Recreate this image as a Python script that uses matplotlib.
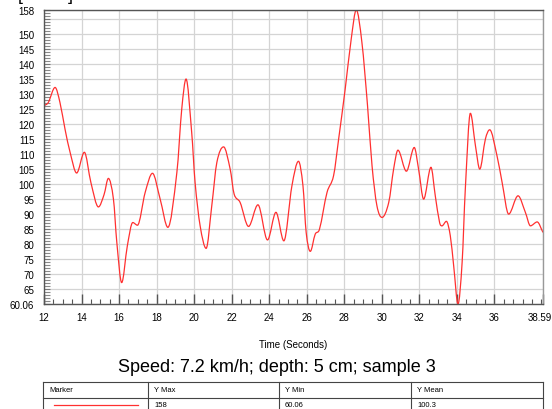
import matplotlib
matplotlib.use("Agg")
from matplotlib import pyplot as plt
from matplotlib.lines import Line2D
from matplotlib.path import Path
from matplotlib.patches import PathPatch
import matplotlib.transforms as mtransforms

plt.rcParams['font.family'] = ['Liberation Sans', 'DejaVu Sans']

# values
time_s = [12.0, 12.23, 12.59, 12.85, 13.12, 13.39, 13.74, 14.15, 14.5, 14.9,
          15.2, 15.43, 15.7, 15.88, 16.14, 16.44, 16.73, 16.98, 17.39, 17.78,
          18.19, 18.6, 19.08, 19.34, 19.57, 19.87, 20.05, 20.32, 20.64, 20.94,
          21.21, 21.57, 21.92, 22.13, 22.45, 22.9, 23.4, 23.91, 24.36, 24.78,
          25.21, 25.56, 25.8, 25.97, 26.19, 26.45, 26.68, 27.08, 27.43, 27.7,
          28.05, 28.37, 28.64, 28.94, 29.24, 29.48, 29.74, 30.01, 30.37, 30.63,
          30.86, 31.31, 31.73, 31.96, 32.23, 32.62, 32.85, 33.08, 33.21, 33.44,
          33.65, 33.83, 34.06, 34.28, 34.45, 34.72, 34.99, 35.22, 35.52, 35.75,
          36.14, 36.41, 36.76, 37.26, 37.65, 37.92, 38.28, 38.59]
force = [126.1, 127.2, 132.2, 127.2, 118.3, 110.6, 103.7, 110.6, 100.5, 92.4,
         96.5, 101.9, 95.0, 80.6, 67.2, 79.4, 87.2, 86.3, 97.2, 103.6,
         95.0, 85.6, 103.9, 125.0, 135.0, 117.2, 100.6, 86.1, 78.6, 92.8,
         107.2, 112.4, 105.0, 96.7, 93.9, 85.9, 93.1, 81.4, 90.6, 81.1,
         99.4, 107.6, 99.4, 83.9, 77.6, 83.3, 85.0, 97.2, 102.8, 115.0,
         131.7, 148.3, 158.0, 147.2, 126.1, 106.1, 92.8, 88.9, 93.9, 105.0,
         111.3, 104.3, 112.2, 105.0, 95.0, 105.6, 96.1, 87.2, 86.1, 87.6,
         82.8, 72.8, 60.06, 73.9, 98.3, 123.6, 112.8, 105.0, 115.0, 118.1,
         109.4, 100.6, 90.0, 96.1, 90.6, 86.1, 87.4, 83.9]

x_ticks = [12, 14, 16, 18, 20, 22, 24, 26, 28, 30, 32, 34, 36, 38.59]
y_ticks = [60.06, 65, 70, 75, 80, 85, 90, 95, 100, 105, 110, 115, 120, 125,
           130, 135, 140, 145, 150, 155, 158]

table_cols = ['Marker', 'Y Max', 'Y Min', 'Y Mean']
table_vals = ['158', '60.06', '100.3']

W, H = 552, 410
fig = plt.figure(figsize=(W / 100, H / 100), dpi=100)
ax = fig.add_axes([44 / W, 1 - 305 / H, 499 / W, 294 / H])

# smooth line through the points (cubic Bezier segments, flat at peaks)
n = len(time_s)
slopes = []
for i in range(n):
    if i == 0:
        m = (force[1] - force[0]) / (time_s[1] - time_s[0])
    elif i == n - 1:
        m = (force[-1] - force[-2]) / (time_s[-1] - time_s[-2])
    elif (force[i] - force[i - 1]) * (force[i + 1] - force[i]) <= 0:
        m = 0.0
    else:
        m = (force[i + 1] - force[i - 1]) / (time_s[i + 1] - time_s[i - 1])
    slopes.append(m)
verts = [(time_s[0], force[0])]
codes = [Path.MOVETO]
for i in range(n - 1):
    dx = (time_s[i + 1] - time_s[i]) / 3
    verts += [(time_s[i] + dx, force[i] + slopes[i] * dx),
              (time_s[i + 1] - dx, force[i + 1] - slopes[i + 1] * dx),
              (time_s[i + 1], force[i + 1])]
    codes += [Path.CURVE4] * 3
ax.add_patch(PathPatch(Path(verts, codes), facecolor='none',
                       edgecolor='#ff3030', linewidth=0.9))

ax.set_xlim(12, 38.59)
ax.set_ylim(60.06, 158)

ax.set_xticks(x_ticks)
ax.set_xticklabels([('%g' % v) for v in x_ticks])
ax.set_xticks([12 + 0.5 * i for i in range(54)], minor=True)
ax.set_yticks(y_ticks)
ax.set_yticklabels(['' if v == 155 else ('%g' % v) for v in y_ticks])
ax.set_yticks(list(range(61, 158)), minor=True)

ax.grid(True, which='major', color='#d4d4d4', linewidth=0.9)
ax.set_axisbelow(True)
ax.tick_params(axis='x', which='major', direction='in', length=7.5, width=1,
               color='#555555', pad=6, labelsize=7)
ax.tick_params(axis='x', which='minor', direction='in', length=3.8, width=0.8,
               color='#555555')
ax.tick_params(axis='y', which='major', direction='in', length=4.5, width=0.8,
               color='#777777', pad=7, labelsize=7)
ax.tick_params(axis='y', which='minor', direction='in', length=4, width=0.8,
               color='#888888')
for s in ax.spines.values():
    s.set_color('#555555')
    s.set_linewidth(1)
ax.spines['right'].set_color('#999999')

# last x label sits a bit left so it stays inside the picture
last = ax.get_xticklabels()[-1]
last.set_transform(last.get_transform() +
                   mtransforms.ScaledTranslation(-3 / 100, 0, fig.dpi_scale_trans))

fig.text(293.5 / W, 1 - 345 / H, 'Time (Seconds)', ha='center', va='center',
         fontsize=7)
fig.text(276.5 / W, 1 - 368 / H, 'Speed: 7.2 km/h; depth: 5 cm; sample 3',
         ha='center', va='center', fontsize=13)
fig.text(18 / W, 1 + 0.5 / H, '[Force]', ha='left', va='baseline', fontsize=13)

# stats table under the chart
def px(x, y):
    return x / W, 1 - y / H

col_x = [43, 148, 279, 411, 543]
for y in [383, 399]:
    fig.add_artist(Line2D(*zip(px(43, y), px(543, y)), color='#444444', linewidth=0.8))
for x in col_x:
    fig.add_artist(Line2D(*zip(px(x, 383), px(x, 415)), color='#444444', linewidth=0.8))
for i, name in enumerate(table_cols):
    fig.text(*px(col_x[i] + 6, 391), name, ha='left', va='center', fontsize=5.5)
fig.add_artist(Line2D(*zip(px(54, 406), px(138, 406)), color='#ff3030', linewidth=0.9))
for i, val in enumerate(table_vals):
    fig.text(*px(col_x[i + 1] + 6, 406), val, ha='left', va='center', fontsize=5.5)

fig.savefig('out.png', dpi=100)
